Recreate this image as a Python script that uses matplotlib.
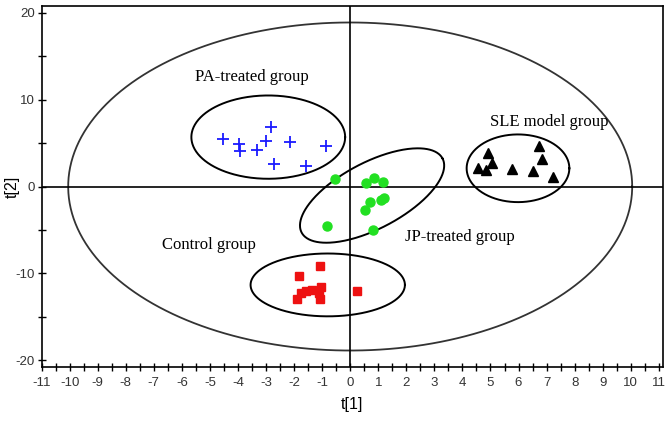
import numpy as np
import matplotlib
matplotlib.use("Agg")
import matplotlib.pyplot as plt

plt.rcParams["axes.unicode_minus"] = False

# score values
pa_x = [-4.55, -3.97, -3.92, -3.32, -2.99, -2.83, -2.14, -2.71, -1.58, -0.87]
pa_y = [5.5, 4.84, 4.04, 4.19, 5.19, 6.84, 5.11, 2.65, 2.42, 4.65]

jp_x = [-0.55, 0.57, 0.86, 1.17, 0.70, 1.09, 1.20, 0.53, -0.83, 0.80]
jp_y = [0.89, 0.35, 0.96, 0.54, -1.73, -1.58, -1.38, -2.73, -4.5, -4.96]

sle_x = [4.92, 5.04, 4.54, 4.85, 5.78, 6.73, 6.84, 6.53, 7.23]
sle_y = [3.81, 2.73, 2.08, 1.88, 1.96, 4.65, 3.19, 1.77, 1.12]

ctrl_x = [-1.83, -1.08, -1.88, -1.76, -1.56, -1.35, -1.04, -1.06, -1.12, 0.26]
ctrl_y = [-10.35, -9.19, -12.95, -12.26, -12.07, -11.88, -11.61, -12.95, -12.26, -12.0]

# group ellipses: centre, half-axis vectors (data units)
groups = {
    "PA-treated group": ((-2.92, 5.69), (2.74, 0.0), (0.0, 4.8)),
    "SLE model group": ((5.98, 2.10), (1.83, 0.0), (0.0, 3.9)),
    "JP-treated group": ((0.78, -1.04), (2.51, 4.27), (0.55, -3.37)),
    "Control group": ((-0.80, -11.34), (2.75, 0.0), (0.0, 3.62)),
}
label_pos = {
    "PA-treated group": (-3.49, 12.57),
    "SLE model group": (7.09, 7.38),
    "JP-treated group": (3.92, -5.77),
    "Control group": (-5.03, -6.69),
}
hotelling = (10.05, 18.9)

fig = plt.figure(figsize=(6.72, 4.22), dpi=100)
ax = fig.add_axes([0.0618, 0.1303, 0.9249, 0.8555])

t = np.linspace(0, 2 * np.pi, 400)
ax.plot(hotelling[0] * np.cos(t), hotelling[1] * np.sin(t), color="#333333", lw=1.3)

for name, (c, u, v) in groups.items():
    ex = c[0] + u[0] * np.cos(t) + v[0] * np.sin(t)
    ey = c[1] + u[1] * np.cos(t) + v[1] * np.sin(t)
    ax.plot(ex, ey, color="black", lw=1.4)
    lx, ly = label_pos[name]
    ax.text(lx, ly, name, ha="center", va="center", fontsize=12,
            family="Liberation Serif")

ax.axhline(0, color="black", lw=1.2)
ax.axvline(0, color="black", lw=1.2)

ax.plot(pa_x, pa_y, "+", color="#1a1aff", ms=9, mew=1.3, ls="none")
ax.plot(jp_x, jp_y, "o", color="#22e022", ms=6.5, mec="#22e022", ls="none")
ax.plot(sle_x, sle_y, "^", color="black", ms=6.5, ls="none")
ax.plot(ctrl_x, ctrl_y, "s", color="#ee1111", ms=5.5, mec="#ee1111", ls="none")

ax.set_xlim(-11, 11.15)
ax.set_ylim(-20.8, 20.8)
ax.set_xticks(np.arange(-11, 12, 1))
ax.set_xticks(np.arange(-11, 11.1, 0.5), minor=True)
ax.set_yticks([-20, -10, 0, 10, 20])
ax.set_yticks([-15, -5, 5, 15], minor=True)
ax.tick_params(which="both", direction="inout", length=6, width=1,
               labelsize=9.5, labelcolor="#333333", pad=4)
ax.tick_params(axis="y", pad=2)
for lab in ax.get_xticklabels() + ax.get_yticklabels():
    lab.set_family("Liberation Sans")
for s in ax.spines.values():
    s.set_linewidth(1.2)

ax.set_xlabel("t[1]", fontsize=11.5, family="Liberation Sans")
ax.set_ylabel("t[2]", fontsize=11.5, family="Liberation Sans")
ax.xaxis.set_label_coords(0.5, -0.083)
ax.yaxis.set_label_coords(-0.035, 0.5)

fig.savefig("out.png", dpi=100)
